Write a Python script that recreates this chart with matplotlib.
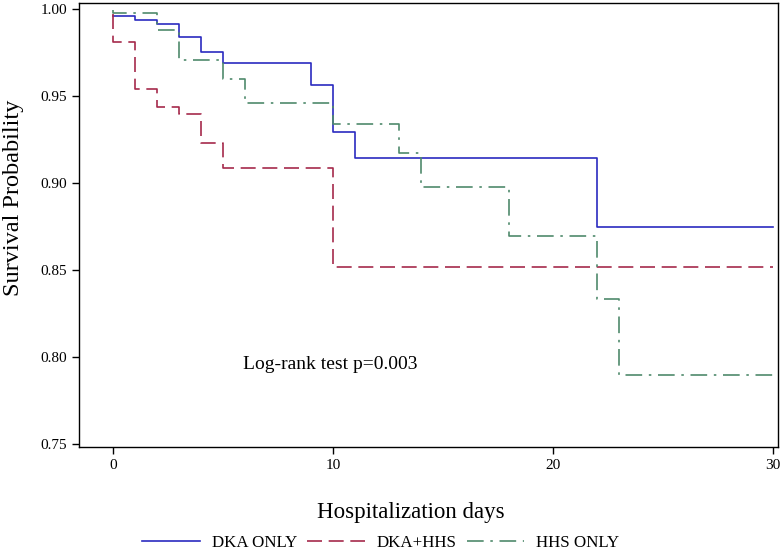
import matplotlib
matplotlib.use('Agg')
import matplotlib.pyplot as plt

plt.rcParams['font.family'] = ['Liberation Serif', 'DejaVu Serif']

# Kaplan-Meier step data (time, survival)
dka_t = [0, 1, 2, 3, 4, 5, 9, 10, 11, 22, 30]
dka_s = [0.996, 0.9935, 0.991, 0.984, 0.975, 0.969, 0.956, 0.929, 0.9145, 0.8747, 0.8747]

both_t = [0, 0, 1, 2, 3, 4, 5, 10, 30]
both_s = [0.997, 0.981, 0.954, 0.9437, 0.9397, 0.923, 0.9086, 0.8517, 0.8517]

hhs_t = [0, 0, 2, 3, 5, 6, 10, 13, 14, 18, 22, 23, 30]
hhs_s = [0.9994, 0.9976, 0.9875, 0.9707, 0.9598, 0.946, 0.934, 0.9172, 0.8977, 0.8695, 0.8333, 0.7897, 0.7897]

fig = plt.figure(figsize=(7.82, 5.55), dpi=100)
ax = fig.add_axes([0.101, 0.195, 0.894, 0.8])

ax.step(dka_t, dka_s, where='post', color='#2b2bc0', lw=1.2, label='DKA ONLY')
ax.step(both_t, both_s, where='post', color='#a52a4c', lw=1.2,
        dashes=(9, 4), label='DKA+HHS')
ax.step(hhs_t, hhs_s, where='post', color='#4f8a6c', lw=1.2,
        dashes=(10, 4, 1.5, 4), label='HHS ONLY')

ax.set_xlim(-1.545, 30.23)
ax.set_ylim(0.7483, 1.0034)
ax.set_xticks([0, 10, 20, 30])
ax.set_yticks([0.75, 0.80, 0.85, 0.90, 0.95, 1.00])
ax.set_yticklabels(['0.75', '0.80', '0.85', '0.90', '0.95', '1.00'])
ax.tick_params(direction='out', length=5, width=1, labelsize=11)
for sp in ax.spines.values():
    sp.set_linewidth(1.0)

ax.set_xlabel('Hospitalization days', fontsize=16.5)
ax.xaxis.set_label_coords(0.475, -0.124)
ax.set_ylabel('Survival Probability', fontsize=17.5)
ax.yaxis.set_label_coords(-0.079, 0.56)

ax.text(9.86, 0.7954, 'Log-rank test p=0.003', fontsize=14, ha='center', va='center')

fig.legend(loc='center', bbox_to_anchor=(0.487, 0.022), ncol=3, frameon=False,
           fontsize=12.2, handlelength=3.4, columnspacing=0.6, handletextpad=0.7)

fig.savefig('out.png', dpi=100)
